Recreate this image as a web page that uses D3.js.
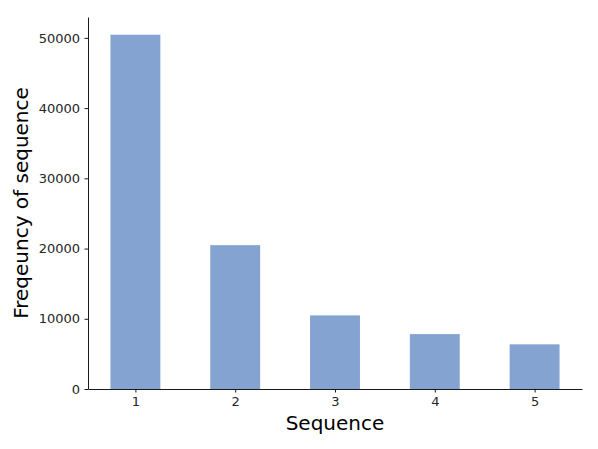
<!DOCTYPE html>
<html lang="en">
  <head>
    <meta charset="UTF-8" />
    <script src="https://d3js.org/d3.v7.min.js"></script>
    <title>Frequency of sequence</title>
    <style>
      body {
        margin: 0;
        background: #fff;
      }
      text {
        font-family: 'DejaVu Sans', sans-serif;
        fill: #262626;
      }
    </style>
  </head>
  <body>
    <script>
      // values
      const sequences = [1, 2, 3, 4, 5]
      const frequencies = [50450, 20480, 10480, 7820, 6360]
      const yTicks = [0, 10000, 20000, 30000, 40000, 50000]

      const width = 598,
        height = 449
      const margin = { top: 17, right: 16, bottom: 60, left: 88 }

      const svg = d3
        .select('body')
        .append('svg')
        .attr('width', width)
        .attr('height', height)

      // matplotlib style limits: bars of width 0.5 plus 5% margin
      const x = d3
        .scaleLinear()
        .domain([0.525, 5.475])
        .range([margin.left, width - margin.right])
      const y = d3
        .scaleLinear()
        .domain([0, d3.max(frequencies) * 1.05])
        .range([height - margin.bottom, margin.top])

      const barWidth = x(1.25) - x(0.75)

      svg
        .selectAll('rect.bar')
        .data(sequences)
        .enter()
        .append('rect')
        .attr('class', 'bar')
        .attr('x', (d) => x(d) - barWidth / 2)
        .attr('y', (d, i) => y(frequencies[i]))
        .attr('width', barWidth)
        .attr('height', (d, i) => y(0) - y(frequencies[i]))
        .attr('fill', '#84a3d0')

      const xAxis = svg
        .append('g')
        .attr('transform', 'translate(0,' + y(0) + ')')
        .call(
          d3
            .axisBottom(x)
            .tickValues(sequences)
            .tickFormat(d3.format('d'))
            .tickSizeInner(3.5)
            .tickSizeOuter(0)
            .tickPadding(4.5),
        )
      const yAxis = svg
        .append('g')
        .attr('transform', 'translate(' + x.range()[0] + ',0)')
        .call(
          d3
            .axisLeft(y)
            .tickValues(yTicks)
            .tickFormat(d3.format('d'))
            .tickSizeInner(3.5)
            .tickSizeOuter(0)
            .tickPadding(4.5),
        )

      ;[xAxis, yAxis].forEach((g) => {
        g.selectAll('text')
          .style('font-size', '13px')
          .style('font-family', "'DejaVu Sans', sans-serif")
          .attr('fill', '#1a1a1a')
        g.selectAll('line').attr('stroke', '#000').attr('stroke-width', 0.9)
        g.select('.domain').attr('stroke', '#000').attr('stroke-width', 0.9)
      })

      svg
        .append('text')
        .attr('x', (x.range()[0] + x.range()[1]) / 2)
        .attr('y', 430)
        .attr('text-anchor', 'middle')
        .style('font-size', '20px')
        .style('fill', '#000')
        .text('Sequence')

      svg
        .append('text')
        .attr(
          'transform',
          'translate(28,' + (y.range()[0] + y.range()[1]) / 2 + ') rotate(-90)',
        )
        .attr('text-anchor', 'middle')
        .style('font-size', '20px')
        .style('fill', '#000')
        .text('Freqeuncy of sequence')
    </script>
  </body>
</html>
